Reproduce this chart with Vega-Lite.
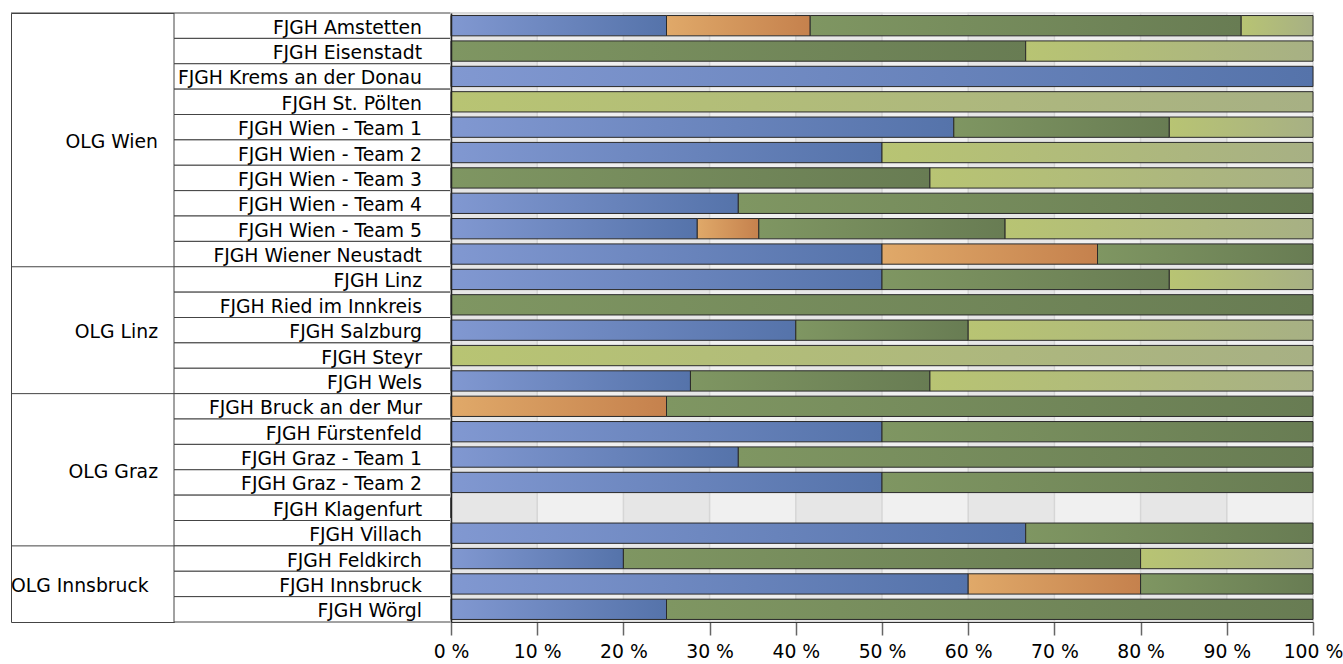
{
  "$schema": "https://vega.github.io/schema/vega-lite/v6.json",
  "padding": {"left": 10, "top": 11, "right": 0, "bottom": 0},
  "background": "white",
  "spacing": 0,
  "bounds": "flush",
  "resolve": {"scale": {"x": "independent", "y": "independent"}},
  "config": {
    "font": "DejaVu Sans",
    "view": {"stroke": null},
    "text": {"font": "DejaVu Sans", "fontSize": 18.8, "color": "#000000"}
  },
  "datasets": {
    "gruppen": [
      {"olg": "OLG Wien", "erste": "FJGH Amstetten", "anker": "FJGH Wien - Team 2"},
      {"olg": "OLG Linz", "erste": "FJGH Linz", "anker": "FJGH Salzburg"},
      {"olg": "OLG Graz", "erste": "FJGH Bruck an der Mur", "anker": "FJGH Graz - Team 2"},
      {"olg": "OLG Innsbruck", "erste": "FJGH Feldkirch", "anker": "FJGH Innsbruck"}
    ],
    "reihen": [
      {"fjgh": "FJGH Amstetten", "olg": "OLG Wien"},
      {"fjgh": "FJGH Eisenstadt", "olg": "OLG Wien"},
      {"fjgh": "FJGH Krems an der Donau", "olg": "OLG Wien"},
      {"fjgh": "FJGH St. Pölten", "olg": "OLG Wien"},
      {"fjgh": "FJGH Wien - Team 1", "olg": "OLG Wien"},
      {"fjgh": "FJGH Wien - Team 2", "olg": "OLG Wien"},
      {"fjgh": "FJGH Wien - Team 3", "olg": "OLG Wien"},
      {"fjgh": "FJGH Wien - Team 4", "olg": "OLG Wien"},
      {"fjgh": "FJGH Wien - Team 5", "olg": "OLG Wien"},
      {"fjgh": "FJGH Wiener Neustadt", "olg": "OLG Wien"},
      {"fjgh": "FJGH Linz", "olg": "OLG Linz"},
      {"fjgh": "FJGH Ried im Innkreis", "olg": "OLG Linz"},
      {"fjgh": "FJGH Salzburg", "olg": "OLG Linz"},
      {"fjgh": "FJGH Steyr", "olg": "OLG Linz"},
      {"fjgh": "FJGH Wels", "olg": "OLG Linz"},
      {"fjgh": "FJGH Bruck an der Mur", "olg": "OLG Graz"},
      {"fjgh": "FJGH Fürstenfeld", "olg": "OLG Graz"},
      {"fjgh": "FJGH Graz - Team 1", "olg": "OLG Graz"},
      {"fjgh": "FJGH Graz - Team 2", "olg": "OLG Graz"},
      {"fjgh": "FJGH Klagenfurt", "olg": "OLG Graz"},
      {"fjgh": "FJGH Villach", "olg": "OLG Graz"},
      {"fjgh": "FJGH Feldkirch", "olg": "OLG Innsbruck"},
      {"fjgh": "FJGH Innsbruck", "olg": "OLG Innsbruck"},
      {"fjgh": "FJGH Wörgl", "olg": "OLG Innsbruck"}
    ],
    "streifen": [
      {"von": 0, "bis": 10},
      {"von": 20, "bis": 30},
      {"von": 40, "bis": 50},
      {"von": 60, "bis": 70},
      {"von": 80, "bis": 90}
    ],
    "werte": [
      {"fjgh": "FJGH Amstetten", "kategorie": "Kategorie 1", "anteil": 25},
      {"fjgh": "FJGH Amstetten", "kategorie": "Kategorie 2", "anteil": 16.67},
      {"fjgh": "FJGH Amstetten", "kategorie": "Kategorie 3", "anteil": 50},
      {"fjgh": "FJGH Amstetten", "kategorie": "Kategorie 4", "anteil": 8.33},
      {"fjgh": "FJGH Eisenstadt", "kategorie": "Kategorie 3", "anteil": 66.67},
      {"fjgh": "FJGH Eisenstadt", "kategorie": "Kategorie 4", "anteil": 33.33},
      {"fjgh": "FJGH Krems an der Donau", "kategorie": "Kategorie 1", "anteil": 100},
      {"fjgh": "FJGH St. Pölten", "kategorie": "Kategorie 4", "anteil": 100},
      {"fjgh": "FJGH Wien - Team 1", "kategorie": "Kategorie 1", "anteil": 58.33},
      {"fjgh": "FJGH Wien - Team 1", "kategorie": "Kategorie 3", "anteil": 25},
      {"fjgh": "FJGH Wien - Team 1", "kategorie": "Kategorie 4", "anteil": 16.67},
      {"fjgh": "FJGH Wien - Team 2", "kategorie": "Kategorie 1", "anteil": 50},
      {"fjgh": "FJGH Wien - Team 2", "kategorie": "Kategorie 4", "anteil": 50},
      {"fjgh": "FJGH Wien - Team 3", "kategorie": "Kategorie 3", "anteil": 55.56},
      {"fjgh": "FJGH Wien - Team 3", "kategorie": "Kategorie 4", "anteil": 44.44},
      {"fjgh": "FJGH Wien - Team 4", "kategorie": "Kategorie 1", "anteil": 33.33},
      {"fjgh": "FJGH Wien - Team 4", "kategorie": "Kategorie 3", "anteil": 66.67},
      {"fjgh": "FJGH Wien - Team 5", "kategorie": "Kategorie 1", "anteil": 28.57},
      {"fjgh": "FJGH Wien - Team 5", "kategorie": "Kategorie 2", "anteil": 7.14},
      {"fjgh": "FJGH Wien - Team 5", "kategorie": "Kategorie 3", "anteil": 28.57},
      {"fjgh": "FJGH Wien - Team 5", "kategorie": "Kategorie 4", "anteil": 35.72},
      {"fjgh": "FJGH Wiener Neustadt", "kategorie": "Kategorie 1", "anteil": 50},
      {"fjgh": "FJGH Wiener Neustadt", "kategorie": "Kategorie 2", "anteil": 25},
      {"fjgh": "FJGH Wiener Neustadt", "kategorie": "Kategorie 3", "anteil": 25},
      {"fjgh": "FJGH Linz", "kategorie": "Kategorie 1", "anteil": 50},
      {"fjgh": "FJGH Linz", "kategorie": "Kategorie 3", "anteil": 33.33},
      {"fjgh": "FJGH Linz", "kategorie": "Kategorie 4", "anteil": 16.67},
      {"fjgh": "FJGH Ried im Innkreis", "kategorie": "Kategorie 3", "anteil": 100},
      {"fjgh": "FJGH Salzburg", "kategorie": "Kategorie 1", "anteil": 40},
      {"fjgh": "FJGH Salzburg", "kategorie": "Kategorie 3", "anteil": 20},
      {"fjgh": "FJGH Salzburg", "kategorie": "Kategorie 4", "anteil": 40},
      {"fjgh": "FJGH Steyr", "kategorie": "Kategorie 4", "anteil": 100},
      {"fjgh": "FJGH Wels", "kategorie": "Kategorie 1", "anteil": 27.78},
      {"fjgh": "FJGH Wels", "kategorie": "Kategorie 3", "anteil": 27.78},
      {"fjgh": "FJGH Wels", "kategorie": "Kategorie 4", "anteil": 44.44},
      {"fjgh": "FJGH Bruck an der Mur", "kategorie": "Kategorie 2", "anteil": 25},
      {"fjgh": "FJGH Bruck an der Mur", "kategorie": "Kategorie 3", "anteil": 75},
      {"fjgh": "FJGH Fürstenfeld", "kategorie": "Kategorie 1", "anteil": 50},
      {"fjgh": "FJGH Fürstenfeld", "kategorie": "Kategorie 3", "anteil": 50},
      {"fjgh": "FJGH Graz - Team 1", "kategorie": "Kategorie 1", "anteil": 33.33},
      {"fjgh": "FJGH Graz - Team 1", "kategorie": "Kategorie 3", "anteil": 66.67},
      {"fjgh": "FJGH Graz - Team 2", "kategorie": "Kategorie 1", "anteil": 50},
      {"fjgh": "FJGH Graz - Team 2", "kategorie": "Kategorie 3", "anteil": 50},
      {"fjgh": "FJGH Klagenfurt", "kategorie": "Kategorie 1", "anteil": 0},
      {"fjgh": "FJGH Villach", "kategorie": "Kategorie 1", "anteil": 66.67},
      {"fjgh": "FJGH Villach", "kategorie": "Kategorie 3", "anteil": 33.33},
      {"fjgh": "FJGH Feldkirch", "kategorie": "Kategorie 1", "anteil": 20},
      {"fjgh": "FJGH Feldkirch", "kategorie": "Kategorie 3", "anteil": 60},
      {"fjgh": "FJGH Feldkirch", "kategorie": "Kategorie 4", "anteil": 20},
      {"fjgh": "FJGH Innsbruck", "kategorie": "Kategorie 1", "anteil": 60},
      {"fjgh": "FJGH Innsbruck", "kategorie": "Kategorie 2", "anteil": 20},
      {"fjgh": "FJGH Innsbruck", "kategorie": "Kategorie 3", "anteil": 20},
      {"fjgh": "FJGH Wörgl", "kategorie": "Kategorie 1", "anteil": 25},
      {"fjgh": "FJGH Wörgl", "kategorie": "Kategorie 3", "anteil": 75}
    ]
  },
  "hconcat": [
    {
      "width": 163,
      "height": 609,
      "view": {"stroke": "#444444", "strokeWidth": 1, "fill": "white"},
      "data": {"name": "gruppen"},
      "layer": [
        {
          "mark": {"type": "rule", "stroke": "#444444", "strokeWidth": 1},
          "encoding": {
            "y": {"field": "erste", "type": "nominal", "bandPosition": 0, "axis": null,
              "scale": {"type": "band", "paddingInner": 0, "paddingOuter": 0, "domain": ["FJGH Amstetten","FJGH Eisenstadt","FJGH Krems an der Donau","FJGH St. Pölten","FJGH Wien - Team 1","FJGH Wien - Team 2","FJGH Wien - Team 3","FJGH Wien - Team 4","FJGH Wien - Team 5","FJGH Wiener Neustadt","FJGH Linz","FJGH Ried im Innkreis","FJGH Salzburg","FJGH Steyr","FJGH Wels","FJGH Bruck an der Mur","FJGH Fürstenfeld","FJGH Graz - Team 1","FJGH Graz - Team 2","FJGH Klagenfurt","FJGH Villach","FJGH Feldkirch","FJGH Innsbruck","FJGH Wörgl"]}},
            "x": {"datum": 0, "type": "quantitative", "scale": {"domain": [0, 1], "nice": false, "zero": false}, "axis": null},
            "x2": {"datum": 1}
          }
        },
        {
          "transform": [{"filter": "datum.olg === 'OLG Wien' || datum.olg === 'OLG Graz'"}],
          "mark": {"type": "text", "align": "right", "baseline": "alphabetic", "dx": -16, "dy": 8},
          "encoding": {
            "y": {"field": "anker", "type": "nominal", "bandPosition": 0, "axis": null,
              "scale": {"type": "band", "paddingInner": 0, "paddingOuter": 0, "domain": ["FJGH Amstetten","FJGH Eisenstadt","FJGH Krems an der Donau","FJGH St. Pölten","FJGH Wien - Team 1","FJGH Wien - Team 2","FJGH Wien - Team 3","FJGH Wien - Team 4","FJGH Wien - Team 5","FJGH Wiener Neustadt","FJGH Linz","FJGH Ried im Innkreis","FJGH Salzburg","FJGH Steyr","FJGH Wels","FJGH Bruck an der Mur","FJGH Fürstenfeld","FJGH Graz - Team 1","FJGH Graz - Team 2","FJGH Klagenfurt","FJGH Villach","FJGH Feldkirch","FJGH Innsbruck","FJGH Wörgl"]}},
            "x": {"datum": 1, "type": "quantitative", "scale": {"domain": [0, 1], "nice": false, "zero": false}, "axis": null},
            "text": {"field": "olg"}
          }
        },
        {
          "transform": [{"filter": "datum.olg === 'OLG Linz'"}],
          "mark": {"type": "text", "align": "right", "baseline": "alphabetic", "dx": -16, "dy": 8},
          "encoding": {
            "y": {"field": "anker", "type": "nominal", "bandPosition": 0.5, "axis": null,
              "scale": {"type": "band", "paddingInner": 0, "paddingOuter": 0, "domain": ["FJGH Amstetten","FJGH Eisenstadt","FJGH Krems an der Donau","FJGH St. Pölten","FJGH Wien - Team 1","FJGH Wien - Team 2","FJGH Wien - Team 3","FJGH Wien - Team 4","FJGH Wien - Team 5","FJGH Wiener Neustadt","FJGH Linz","FJGH Ried im Innkreis","FJGH Salzburg","FJGH Steyr","FJGH Wels","FJGH Bruck an der Mur","FJGH Fürstenfeld","FJGH Graz - Team 1","FJGH Graz - Team 2","FJGH Klagenfurt","FJGH Villach","FJGH Feldkirch","FJGH Innsbruck","FJGH Wörgl"]}},
            "x": {"datum": 1, "type": "quantitative", "scale": {"domain": [0, 1], "nice": false, "zero": false}, "axis": null},
            "text": {"field": "olg"}
          }
        },
        {
          "transform": [{"filter": "datum.olg === 'OLG Innsbruck'"}],
          "mark": {"type": "text", "align": "left", "baseline": "alphabetic", "dx": 0, "dy": 8},
          "encoding": {
            "y": {"field": "anker", "type": "nominal", "bandPosition": 0.5, "axis": null,
              "scale": {"type": "band", "paddingInner": 0, "paddingOuter": 0, "domain": ["FJGH Amstetten","FJGH Eisenstadt","FJGH Krems an der Donau","FJGH St. Pölten","FJGH Wien - Team 1","FJGH Wien - Team 2","FJGH Wien - Team 3","FJGH Wien - Team 4","FJGH Wien - Team 5","FJGH Wiener Neustadt","FJGH Linz","FJGH Ried im Innkreis","FJGH Salzburg","FJGH Steyr","FJGH Wels","FJGH Bruck an der Mur","FJGH Fürstenfeld","FJGH Graz - Team 1","FJGH Graz - Team 2","FJGH Klagenfurt","FJGH Villach","FJGH Feldkirch","FJGH Innsbruck","FJGH Wörgl"]}},
            "x": {"datum": 0, "type": "quantitative", "scale": {"domain": [0, 1], "nice": false, "zero": false}, "axis": null},
            "text": {"field": "olg"}
          }
        }
      ]
    },
    {
      "width": 277,
      "height": 609,
      "data": {"name": "reihen"},
      "encoding": {
        "y": {"field": "fjgh", "type": "nominal", "axis": null,
          "scale": {"type": "band", "paddingInner": 0, "paddingOuter": 0, "domain": ["FJGH Amstetten","FJGH Eisenstadt","FJGH Krems an der Donau","FJGH St. Pölten","FJGH Wien - Team 1","FJGH Wien - Team 2","FJGH Wien - Team 3","FJGH Wien - Team 4","FJGH Wien - Team 5","FJGH Wiener Neustadt","FJGH Linz","FJGH Ried im Innkreis","FJGH Salzburg","FJGH Steyr","FJGH Wels","FJGH Bruck an der Mur","FJGH Fürstenfeld","FJGH Graz - Team 1","FJGH Graz - Team 2","FJGH Klagenfurt","FJGH Villach","FJGH Feldkirch","FJGH Innsbruck","FJGH Wörgl"]}}
      },
      "layer": [
        {
          "mark": {"type": "rect", "fill": "white", "stroke": "#444444", "strokeWidth": 1},
          "encoding": {
            "x": {"datum": 0, "type": "quantitative", "scale": {"domain": [0, 1], "nice": false, "zero": false}, "axis": null},
            "x2": {"datum": 1}
          }
        },
        {
          "mark": {"type": "text", "align": "right", "baseline": "alphabetic", "dx": -29, "dy": 8},
          "encoding": {
            "x": {"datum": 1, "type": "quantitative", "scale": {"domain": [0, 1], "nice": false, "zero": false}, "axis": null},
            "text": {"field": "fjgh"}
          }
        }
      ]
    },
    {
      "width": 862,
      "height": 609,
      "view": {"fill": "#f0f0f0", "stroke": "#d6d6d6", "strokeWidth": 1.5},
      "layer": [
        {
          "data": {"name": "streifen"},
          "mark": {"type": "rect", "fill": "#e6e6e6", "stroke": "#d6d6d6", "strokeWidth": 1.5},
          "encoding": {
            "x": {"field": "von", "type": "quantitative", "scale": {"domain": [0, 100], "nice": false},
              "axis": {"values": [0,10,20,30,40,50,60,70,80,90,100], "labelExpr": "datum.value + ' %'", "title": null, "grid": false, "tickSize": 13, "tickColor": "#666666", "tickWidth": 1.5, "domainColor": "#333333", "domainWidth": 1, "labelFontSize": 18.8, "labelFont": "DejaVu Sans", "labelColor": "#000000", "labelPadding": 7, "labelFlush": false, "labelOverlap": false, "zindex": 1}},
            "x2": {"field": "bis"}
          }
        },
        {
          "data": {"name": "werte"},
          "transform": [
            {"stack": "anteil", "groupby": ["fjgh"], "sort": [{"field": "kategorie", "order": "ascending"}], "as": ["x0", "x1"]}
          ],
          "encoding": {
            "y": {"field": "fjgh", "type": "nominal",
              "scale": {"type": "band", "paddingInner": 0, "paddingOuter": 0, "domain": ["FJGH Amstetten","FJGH Eisenstadt","FJGH Krems an der Donau","FJGH St. Pölten","FJGH Wien - Team 1","FJGH Wien - Team 2","FJGH Wien - Team 3","FJGH Wien - Team 4","FJGH Wien - Team 5","FJGH Wiener Neustadt","FJGH Linz","FJGH Ried im Innkreis","FJGH Salzburg","FJGH Steyr","FJGH Wels","FJGH Bruck an der Mur","FJGH Fürstenfeld","FJGH Graz - Team 1","FJGH Graz - Team 2","FJGH Klagenfurt","FJGH Villach","FJGH Feldkirch","FJGH Innsbruck","FJGH Wörgl"]},
              "axis": {"labels": false, "ticks": false, "domain": true, "domainColor": "#222222", "domainWidth": 1.5, "grid": false, "title": null, "zindex": 1}},
            "x": {"field": "x0", "type": "quantitative", "scale": {"domain": [0, 100], "nice": false},
              "axis": {"values": [0,10,20,30,40,50,60,70,80,90,100], "labelExpr": "datum.value + ' %'", "title": null, "grid": false, "tickSize": 13, "tickColor": "#666666", "tickWidth": 1.5, "domainColor": "#333333", "domainWidth": 1, "labelFontSize": 18.8, "labelFont": "DejaVu Sans", "labelColor": "#000000", "labelPadding": 7, "labelFlush": false, "labelOverlap": false, "zindex": 1}},
            "x2": {"field": "x1"}
          },
          "layer": [
            {
              "transform": [{"filter": "datum.kategorie === 'Kategorie 1'"}],
              "mark": {"type": "bar", "height": {"band": 0.8}, "stroke": "#2a2a2a", "strokeWidth": 1,
                "fill": {"gradient": "linear", "x1": 0, "y1": 0, "x2": 1, "y2": 0, "stops": [{"offset": 0, "color": "#8198d1"}, {"offset": 1, "color": "#5573aa"}]}}
            },
            {
              "transform": [{"filter": "datum.kategorie === 'Kategorie 2'"}],
              "mark": {"type": "bar", "height": {"band": 0.8}, "stroke": "#2a2a2a", "strokeWidth": 1,
                "fill": {"gradient": "linear", "x1": 0, "y1": 0, "x2": 1, "y2": 0, "stops": [{"offset": 0, "color": "#e0a969"}, {"offset": 1, "color": "#c5814d"}]}}
            },
            {
              "transform": [{"filter": "datum.kategorie === 'Kategorie 3'"}],
              "mark": {"type": "bar", "height": {"band": 0.8}, "stroke": "#2a2a2a", "strokeWidth": 1,
                "fill": {"gradient": "linear", "x1": 0, "y1": 0, "x2": 1, "y2": 0, "stops": [{"offset": 0, "color": "#7f9662"}, {"offset": 1, "color": "#687c53"}]}}
            },
            {
              "transform": [{"filter": "datum.kategorie === 'Kategorie 4'"}],
              "mark": {"type": "bar", "height": {"band": 0.8}, "stroke": "#2a2a2a", "strokeWidth": 1,
                "fill": {"gradient": "linear", "x1": 0, "y1": 0, "x2": 1, "y2": 0, "stops": [{"offset": 0, "color": "#b8c473"}, {"offset": 1, "color": "#a7b084"}]}}
            }
          ]
        }
      ]
    }
  ]
}
